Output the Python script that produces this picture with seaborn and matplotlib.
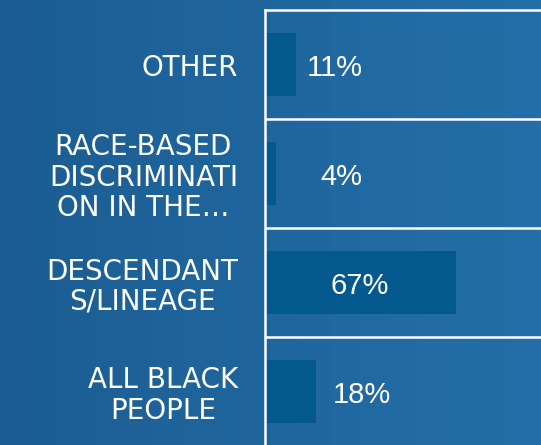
import numpy as np
import pandas as pd
import matplotlib
matplotlib.use("Agg")
import matplotlib.pyplot as plt
from matplotlib.colors import LinearSegmentedColormap
import seaborn as sns

# ---- data ----
categories = ["OTHER", "RACE-BASED\nDISCRIMINATI\nON IN THE…", "DESCENDANT\nS/LINEAGE", "ALL BLACK\nPEOPLE"]
values = [11, 4, 67, 18]
value_labels = ["11%", "4%", "67%", "18%"]
label_x = [24.6, 26.7, 33.2, 34.1]

sns.set_theme(style="white")
plt.rcParams["font.family"] = ["Liberation Sans", "DejaVu Sans"]

W, H = 541, 445
fig = plt.figure(figsize=(W / 100, H / 100), dpi=100)

# gradient background
bg = fig.add_axes([0, 0, 1, 1], zorder=-10)
cmap = LinearSegmentedColormap.from_list("bg", ["#1b5d92", "#246fa9"])
grad = np.linspace(0, 1, 256).reshape(1, -1)
bg.imshow(grad, aspect="auto", cmap=cmap, extent=[0, 1, 0, 1])
bg.set_axis_off()

left = 265 / W
top = 1 - 10 / H
bottom = -1 / H
ax = fig.add_axes([left, bottom, 1 - left, top - bottom])
ax.set_facecolor("none")

df = pd.DataFrame({"category": categories, "value": values})
sns.barplot(data=df, x="value", y="category", order=categories, orient="h",
            color="#03588d", saturation=1, width=0.57, linewidth=0, ax=ax)

ax.set_xlim(0, 97)
ax.set_ylim(3.5, -0.5)
ax.set_xlabel("")
ax.set_ylabel("")
ax.set_xticks([])

for i in range(len(categories) - 1):
    ax.axhline(i + 0.5, color="white", lw=1.8, zorder=3)

for s in ["right", "bottom"]:
    ax.spines[s].set_visible(False)
for s in ["left", "top"]:
    ax.spines[s].set_color("white")
    ax.spines[s].set_linewidth(1.8)
    ax.spines[s].set_zorder(4)

ax.tick_params(axis="y", length=0, pad=19.5, colors="white")
for t in ax.get_yticklabels():
    t.set_fontfamily(["DejaVu Sans"])
    t.set_fontsize(20)
    t.set_color("white")
    t.set_multialignment("center")
    t.set_linespacing(1.1)

for i, (lx, lab) in enumerate(zip(label_x, value_labels)):
    ax.text(lx, i + 0.03, lab, ha="center", va="center", color="white",
            fontsize=21, fontfamily="Liberation Sans", zorder=5)

fig.savefig("out.png", dpi=100)
